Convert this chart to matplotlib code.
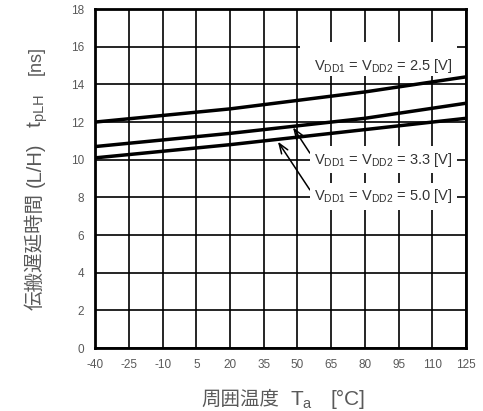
import matplotlib
matplotlib.use("Agg")
import matplotlib.pyplot as plt
from matplotlib.patches import Rectangle

plt.rcParams['font.family'] = ['Liberation Sans', 'DejaVu Sans']
plt.rcParams['axes.unicode_minus'] = False

# Werte
temp = [-40, 20, 80, 125]
t_25 = [12.0, 12.7, 13.6, 14.4]
t_33 = [10.7, 11.4, 12.2, 13.0]
t_50 = [10.1, 10.8, 11.6, 12.2]

xticks = [-40, -25, -10, 5, 20, 35, 50, 65, 80, 95, 110, 125]
yticks = [0, 2, 4, 6, 8, 10, 12, 14, 16, 18]

grey = '#595959'
txt = '#333333'
jp = 'Noto Sans CJK JP'

fig = plt.figure(figsize=(4.83, 4.11), dpi=100)
ax = fig.add_axes([0.197, 0.153, 0.768, 0.825])

ax.plot(temp, t_25, color='black', lw=2.5, zorder=3)
ax.plot(temp, t_33, color='black', lw=2.5, zorder=3)
ax.plot(temp, t_50, color='black', lw=2.5, zorder=3)

ax.set_xlim(-40, 125)
ax.set_ylim(0, 18)
ax.set_xticks(xticks)
ax.set_yticks(yticks)
ax.grid(True, color='black', lw=1.2)
ax.set_axisbelow(True)
ax.tick_params(length=0, pad=8, labelsize=8.5, labelcolor=grey)
for s in ax.spines.values():
    s.set_linewidth(2.0)
    s.set_zorder(5)

# weisser Hintergrund fuer die 2.5V-Beschriftung
ax.add_patch(Rectangle((51.0, 14.45), 70.0, 1.8, fc='white', ec='none', zorder=2))

lab = r'V$_\mathregular{DD1}$ = V$_\mathregular{DD2}$ = %s [V]'
box = dict(boxstyle='square,pad=0.3', fc='white', ec='none')
ax.text(88.2, 15.0, lab % '2.5', ha='center', va='center',
        fontsize=10.5, color=txt, zorder=4)
arw = dict(arrowstyle='->,head_length=0.6,head_width=0.22', color='black', lw=1.1,
           shrinkA=0, shrinkB=0, relpos=(0, 0.5), mutation_scale=12)
ax.annotate(lab % '3.3', xy=(48.0, 11.72), xytext=(88.2, 10.0),
            ha='center', va='center', fontsize=10.5, color=txt,
            bbox=box, zorder=4, arrowprops=arw)
ax.annotate(lab % '5.0', xy=(41.3, 10.96), xytext=(88.2, 8.05),
            ha='center', va='center', fontsize=10.5, color=txt,
            bbox=box, zorder=4, arrowprops=arw)

# x-Achsenbeschriftung (Japanisch + Formelteil getrennt)
W, H = 483.0, 411.0
fig.text(279 / W, 6 / H, '周囲温度', family=jp, fontsize=14, color=grey,
         ha='right', va='baseline')
fig.text(290 / W, 6 / H, r'T$_\mathregular{a}$', fontsize=15, color=grey,
         ha='left', va='baseline')
fig.text(330 / W, 6 / H, '[°C]', fontsize=15, color=grey,
         ha='left', va='baseline')

# y-Achsenbeschriftung
yl = dict(color=grey, rotation=90, rotation_mode='anchor', va='baseline')
fig.text(41 / W, 1 - 193 / H, '伝搬遅延時間', family=jp, fontsize=14, ha='right', **yl)
fig.text(41 / W, 1 - 187 / H, '(L/H)', fontsize=14.5, ha='left', **yl)
fig.text(41 / W, 1 - 128 / H, r't$_\mathregular{pLH}$', fontsize=15, ha='left', **yl)
fig.text(41 / W, 1 - 75 / H, '[ns]', fontsize=13, ha='left', **yl)

fig.savefig('out.png', dpi=100)
